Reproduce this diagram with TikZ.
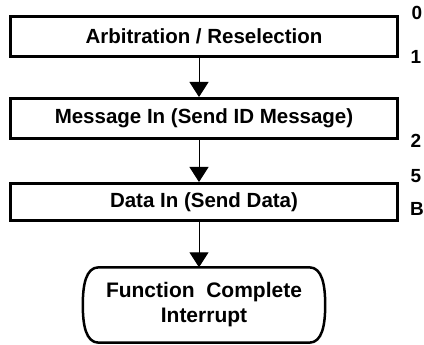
\documentclass[tikz,border=0pt]{standalone}
\usepackage{fontspec}
\setmainfont{Liberation Sans}
\usetikzlibrary{arrows.meta}

\begin{document}
\begin{tikzpicture}[x=1pt,y=-1pt,
    phase/.style={draw,line width=3pt,minimum width=387pt,inner sep=0pt,font=\bfseries\fontsize{20.5}{22}\selectfont},
    flow/.style={line width=1pt,-{Triangle[width=19pt,length=15pt]}},
    tag/.style={inner sep=0pt,font=\bfseries\fontsize{19}{19}\selectfont}]
      \useasboundingbox (0,0) rectangle (424,345);
      \node[phase,minimum height=40pt] (arb) at (204,36.5) {Arbitration / Reselection};
      \node[phase,minimum height=40pt] (msg) at (204,118.5) {Message In (Send ID Message)};
      \node[phase,minimum height=37pt] (dat) at (204,202) {Data In (Send Data)};
      % terminal with bowed sides
      \node[minimum width=210pt,minimum height=75pt,inner sep=0pt,align=center,
            font=\bfseries\fontsize{21}{25}\selectfont] (fin) at (204,305) {Function\ \ Complete\\Interrupt};
      \draw[line width=2.5pt] (fin.north west) -- (fin.north east)
        .. controls +(13,0) and +(0,-20) .. ([xshift=16pt]fin.east)
        .. controls +(0,20) and +(13,0) .. (fin.south east) -- (fin.south west)
        .. controls +(-13,0) and +(0,20) .. ([xshift=-16pt]fin.west)
        .. controls +(0,-20) and +(-13,0) .. (fin.north west) -- cycle;
      \draw[flow] ([xshift=-5pt]arb.south) -- ([xshift=-5pt]msg.north);
      \draw[flow] ([xshift=-5pt]msg.south) -- ([xshift=-5pt]dat.north);
      \draw[flow] ([xshift=-5pt]dat.south) -- ([xshift=-5pt]fin.north);
      \node[tag] (p0) at (417,13) {0};
      \node[tag] (p1) at (416,57) {1};
      \node[tag] (p2) at (416,141) {2};
      \node[tag] (p5) at (416,176) {5};
      \node[tag] (pB) at (417,209) {B};
    \end{tikzpicture}
\end{document}
